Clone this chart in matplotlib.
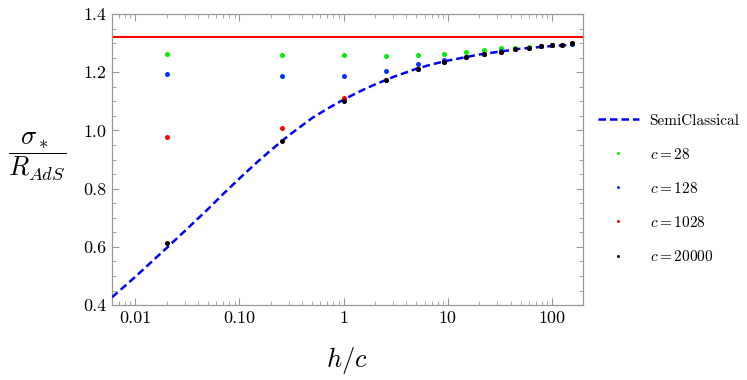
"""
sigma_* / R_AdS against h/c, semiclassical curve and finite c points
"""
import numpy as np
import matplotlib
matplotlib.use("Agg")
import matplotlib.pyplot as plt
from matplotlib.ticker import FixedLocator, MultipleLocator, NullFormatter

#%%
#data

#semiclassical curve
x_semi = [0.006, 0.01, 0.02, 0.03, 0.05, 0.07, 0.1, 0.15, 0.2, 0.3, 0.5, 0.7, 1,
          1.5, 2, 3, 5, 7, 10, 20, 50, 100, 160]
y_semi = [0.427, 0.497, 0.596, 0.655, 0.730, 0.782, 0.835, 0.893, 0.932, 0.984, 1.043, 1.075, 1.106,
          1.138, 1.158, 1.184, 1.212, 1.227, 1.240, 1.261, 1.281, 1.290, 1.295]

#h/c values of the points
x_pts = [0.0204, 0.255, 1.0, 2.55, 5.17, 9.24, 14.9, 22.5, 32.3, 44.6, 60.3, 78.5, 100, 125, 155]

y_c28 = [1.262, 1.261, 1.258, 1.256, 1.259, 1.263, 1.271, 1.278, 1.283, 1.285, 1.287, 1.290, 1.292, 1.294, 1.298]
y_c128 = [1.193, 1.187, 1.186, 1.203, 1.227, 1.241, 1.254, 1.264, 1.272, 1.279, 1.285, 1.289, 1.292, 1.294, 1.298]
y_c1028 = [0.978, 1.008, 1.113, 1.175, 1.211, 1.237, 1.253, 1.263, 1.271, 1.279, 1.285, 1.289, 1.292, 1.294, 1.299]
y_c20000 = [0.613, 0.963, 1.103, 1.172, 1.210, 1.236, 1.252, 1.263, 1.271, 1.279, 1.285, 1.289, 1.292, 1.294, 1.299]

#horizontal limit line
y_limit = 1.32

labels = ["SemiClassical", "$c = 28$", "$c = 128$", "$c = 1028$", "$c = 20000$"]
xtick_vals = [0.01, 0.1, 1, 10, 100]
xtick_labels = ["0.01", "0.10", "1", "10", "100"]

#%%
plt.rcParams["mathtext.fontset"] = "cm"
plt.rcParams["font.family"] = ["cmr10", "DejaVu Serif"]
plt.rcParams["axes.formatter.use_mathtext"] = True

fig = plt.figure(figsize=(7.47, 3.8), dpi=100)
ax = fig.add_axes([0.150, 0.197, 0.630, 0.766])

ax.axhline(y_limit, color="#ff0000", lw=1.5, zorder=2)
ax.plot(x_semi, y_semi, color="#0000ff", ls=(0, (3.0, 1.6)), lw=1.8, label=labels[0], zorder=3)

cols = ["#00ee00", "#0033ff", "#ff0000", "#000000"]
for ys, col, lab in zip([y_c28, y_c128, y_c1028, y_c20000], cols, labels[1:]):
    ax.plot(x_pts, ys, "o", color=col, ms=3.6, mew=0, label=lab, zorder=4)

ax.set_xscale("log")
ax.set_xlim(0.006, 197)
ax.set_ylim(0.4, 1.4)

ax.xaxis.set_major_locator(FixedLocator(xtick_vals))
ax.set_xticklabels(xtick_labels)
ax.xaxis.set_minor_locator(FixedLocator([m * 10.0**e for e in range(-3, 3) for m in range(2, 10)]))
ax.xaxis.set_minor_formatter(NullFormatter())
ax.yaxis.set_major_locator(MultipleLocator(0.2))
ax.yaxis.set_minor_locator(MultipleLocator(0.05))
ax.set_yticks([0.4, 0.6, 0.8, 1.0, 1.2, 1.4])
ax.set_yticklabels(["0.4", "0.6", "0.8", "1.0", "1.2", "1.4"])

for s in ax.spines.values():
    s.set_color("#999999")
    s.set_linewidth(0.9)
ax.tick_params(which="both", direction="in", top=True, right=True, color="#999999",
               labelsize=13, pad=4)
ax.tick_params(which="major", length=5, width=0.8)
ax.tick_params(which="minor", length=2.8, width=0.6)

fig.text(347 / 747, 1 - 360 / 380, r"$h/c$", fontsize=19, ha="center", va="center")
fig.text(37 / 747, 1 - 156 / 380, r"$\dfrac{\sigma_*}{R_{AdS}}$", fontsize=19, ha="center", va="center")

fig.legend(loc="center left", bbox_to_anchor=(0.80, 0.503), frameon=False, fontsize=11,
           borderpad=0, borderaxespad=0, handlelength=2.7, handletextpad=0.7,
           labelspacing=1.25, markerscale=0.6)

fig.savefig("out.png", dpi=100)
